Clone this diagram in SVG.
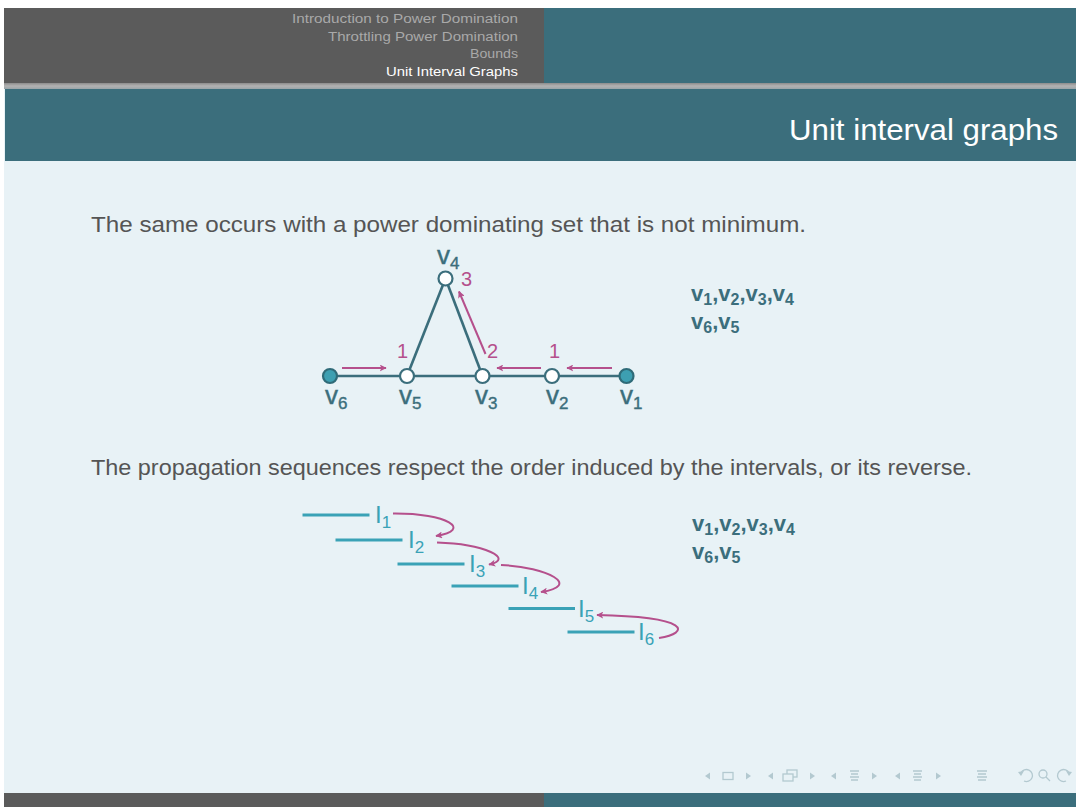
<svg xmlns="http://www.w3.org/2000/svg" width="1076" height="807" viewBox="0 0 1076 807">
<defs>
<linearGradient id="shadow" x1="0" y1="0" x2="0" y2="1">
<stop offset="0" stop-color="#8c8c8c"/>
<stop offset="0.5" stop-color="#b2b2b2"/>
<stop offset="1" stop-color="#9aa4a8"/>
</linearGradient>
<marker id="ah" viewBox="0 0 10 10" refX="9" refY="5" markerWidth="7" markerHeight="7" markerUnits="userSpaceOnUse" orient="auto">
<path d="M0,0 L10,5 L0,10 L2.5,5 Z" fill="#b5508c"/>
</marker>
</defs>
<style>
.nav{font-family:"Liberation Sans","DejaVu Sans",sans-serif;font-size:12.5px;fill:#a9a9a9}
.navact{fill:#ffffff}
.title{font-family:"Liberation Sans","DejaVu Sans",sans-serif;font-size:29px;fill:#ffffff}
.body{font-family:"Liberation Sans","DejaVu Sans",sans-serif;font-size:22px;fill:#555555}
.edge{stroke:#3b6e7c;stroke-width:2.6;fill:none}
.prop{stroke:#b5508c;stroke-width:2;fill:none;marker-end:url(#ah)}
.open{fill:#ffffff;stroke:#3b6e7c;stroke-width:2.2}
.filled{fill:#3d9fb1;stroke:#2f6b78;stroke-width:2.2}
.vl{font-family:"Liberation Sans","DejaVu Sans",sans-serif;font-size:26px;fill:#3b6e7c;stroke:#3b6e7c;stroke-width:0.4}
.num{font-family:"Liberation Sans","DejaVu Sans",sans-serif;font-size:20px;fill:#b5508c}
.seq{font-family:"Liberation Sans","DejaVu Sans",sans-serif;font-size:22px;font-weight:bold;fill:#3b6e7c}
.ival{stroke:#3aa2b6;stroke-width:3}
.il{font-family:"Liberation Sans","DejaVu Sans",sans-serif;font-size:24px;fill:#3aa2b6}
.sub{font-size:17px}
.ssub{font-size:16px}
.icon{fill:#b3c9d0;stroke:none}
.iconl{stroke:#b3c9d0;stroke-width:1.3;fill:none}
</style>

<rect x="0" y="0" width="1076" height="807" fill="#ffffff"/>
<rect x="4" y="8" width="1072" height="799" fill="#e8f2f6"/>

<g id="header">
<rect x="4" y="8" width="540" height="76" fill="#5b5b5b"/>
<rect x="544" y="8" width="532" height="76" fill="#3b6e7c"/>
<rect x="4" y="83" width="1072" height="6" fill="url(#shadow)"/>
<text class="nav" x="292" y="23" textLength="226" lengthAdjust="spacingAndGlyphs">Introduction to Power Domination</text>
<text class="nav" x="328" y="40.5" textLength="190" lengthAdjust="spacingAndGlyphs">Throttling Power Domination</text>
<text class="nav" x="470" y="58" textLength="48" lengthAdjust="spacingAndGlyphs">Bounds</text>
<text class="nav navact" x="386" y="75.5" textLength="132" lengthAdjust="spacingAndGlyphs">Unit Interval Graphs</text>
</g>

<g id="titlebar">
<rect x="5" y="89" width="1071" height="72" fill="#3b6e7c"/>
<text class="title" x="789" y="140" textLength="269" lengthAdjust="spacingAndGlyphs">Unit interval graphs</text>
</g>

<g id="text1">
<text class="body" x="91" y="232" textLength="715" lengthAdjust="spacingAndGlyphs">The same occurs with a power dominating set that is not minimum.</text>
</g>
<g id="text2">
<text class="body" x="91" y="475" textLength="881" lengthAdjust="spacingAndGlyphs">The propagation sequences respect the order induced by the intervals, or its reverse.</text>
</g>

<g id="connectors">
<line class="edge" x1="330" y1="376" x2="626" y2="376"/>
<line class="edge" x1="407" y1="376" x2="445.5" y2="278.5"/>
<line class="edge" x1="482.5" y1="376" x2="445.5" y2="278.5"/>
<line class="prop" x1="342" y1="368" x2="386" y2="368"/>
<line class="prop" x1="541" y1="368" x2="497" y2="368"/>
<line class="prop" x1="612" y1="368" x2="567" y2="368"/>
<line class="prop" x1="485.5" y1="354" x2="459" y2="291.5"/>
<path class="prop" d="M393,513.5 C448,513 473,530 436,536"/>
<path class="prop" d="M437,542.5 C485,544 515,559 489,564.5"/>
<path class="prop" d="M501,565 C548,567 582,586 541,592"/>
<path class="prop" d="M659,638 C690,633 692,617 597,615"/>
</g>

<g id="v6">
<circle class="filled" cx="330" cy="376" r="7"/>
<text class="vl" x="325" y="404">v<tspan class="sub" dy="5">6</tspan></text>
</g>
<g id="v5">
<circle class="open" cx="407" cy="376" r="7"/>
<text class="vl" x="399" y="404">v<tspan class="sub" dy="5">5</tspan></text>
<text class="num" x="397" y="358">1</text>
</g>
<g id="v3">
<circle class="open" cx="482.5" cy="376" r="7"/>
<text class="vl" x="475" y="404">v<tspan class="sub" dy="5">3</tspan></text>
<text class="num" x="487" y="358">2</text>
</g>
<g id="v2">
<circle class="open" cx="552" cy="376" r="7"/>
<text class="vl" x="546" y="404">v<tspan class="sub" dy="5">2</tspan></text>
<text class="num" x="549" y="358">1</text>
</g>
<g id="v1">
<circle class="filled" cx="626.5" cy="376" r="7"/>
<text class="vl" x="620" y="404">v<tspan class="sub" dy="5">1</tspan></text>
</g>
<g id="v4">
<circle class="open" cx="445.5" cy="278.5" r="7"/>
<text class="vl" x="437" y="264">v<tspan class="sub" dy="5">4</tspan></text>
<text class="num" x="461" y="286">3</text>
</g>

<g id="seq1">
<text class="seq" x="691" y="301">v<tspan class="ssub" dy="4">1</tspan><tspan dy="-4">,v</tspan><tspan class="ssub" dy="4">2</tspan><tspan dy="-4">,v</tspan><tspan class="ssub" dy="4">3</tspan><tspan dy="-4">,v</tspan><tspan class="ssub" dy="4">4</tspan></text>
<text class="seq" x="691" y="329">v<tspan class="ssub" dy="4">6</tspan><tspan dy="-4">,v</tspan><tspan class="ssub" dy="4">5</tspan></text>
</g>

<g id="I1">
<line class="ival" x1="302.5" y1="515" x2="369.5" y2="515"/>
<text class="il" x="375" y="523">I<tspan class="sub" dy="5">1</tspan></text>
</g>
<g id="I2">
<line class="ival" x1="335.5" y1="540" x2="402.5" y2="540"/>
<text class="il" x="408" y="548">I<tspan class="sub" dy="5">2</tspan></text>
</g>
<g id="I3">
<line class="ival" x1="397.5" y1="564" x2="464.5" y2="564"/>
<text class="il" x="469" y="572">I<tspan class="sub" dy="5">3</tspan></text>
</g>
<g id="I4">
<line class="ival" x1="451.5" y1="586" x2="518.5" y2="586"/>
<text class="il" x="522" y="594">I<tspan class="sub" dy="5">4</tspan></text>
</g>
<g id="I5">
<line class="ival" x1="508.5" y1="608.5" x2="575" y2="608.5"/>
<text class="il" x="578" y="617">I<tspan class="sub" dy="5">5</tspan></text>
</g>
<g id="I6">
<line class="ival" x1="567.5" y1="632" x2="634.5" y2="632"/>
<text class="il" x="638" y="640">I<tspan class="sub" dy="5">6</tspan></text>
</g>

<g id="seq2">
<text class="seq" x="692" y="531">v<tspan class="ssub" dy="4">1</tspan><tspan dy="-4">,v</tspan><tspan class="ssub" dy="4">2</tspan><tspan dy="-4">,v</tspan><tspan class="ssub" dy="4">3</tspan><tspan dy="-4">,v</tspan><tspan class="ssub" dy="4">4</tspan></text>
<text class="seq" x="692" y="559">v<tspan class="ssub" dy="4">6</tspan><tspan dy="-4">,v</tspan><tspan class="ssub" dy="4">5</tspan></text>
</g>

<g id="navsymbols">
<polygon class="icon" points="705,776 710,772.5 710,779.5"/>
<rect class="iconl" x="723" y="772.5" width="10" height="7"/>
<polygon class="icon" points="746,772.5 751,776 746,779.5"/>
<polygon class="icon" points="768,776 773,772.5 773,779.5"/>
<rect class="iconl" x="787" y="770" width="10" height="7"/>
<rect x="783" y="774" width="10" height="7" fill="#e8f2f6" stroke="#b3c9d0" stroke-width="1.3"/>
<polygon class="icon" points="810,772.5 815,776 810,779.5"/>
<polygon class="icon" points="831,776 836,772.5 836,779.5"/>
<path class="iconl" d="M850,771 H859 M851,774 H858 M850,777 H859 M851,780 H858"/>
<polygon class="icon" points="872,772.5 877,776 872,779.5"/>
<polygon class="icon" points="895,776 900,772.5 900,779.5"/>
<path class="iconl" d="M913,771 H922 M914,774 H921 M913,777 H922 M914,780 H921"/>
<polygon class="icon" points="936,772.5 941,776 936,779.5"/>
<path class="iconl" d="M977,771 H987 M978,774 H986 M977,777 H987 M978,780 H986"/>
<path class="iconl" d="M1021,773 A6,6 0 1 1 1024,781"/>
<polygon class="icon" points="1018,772 1024,771 1021,776"/>
<circle class="iconl" cx="1043" cy="774" r="4"/>
<path class="iconl" d="M1046,777 L1050,781"/>
<path class="iconl" d="M1069,773 A6,6 0 1 0 1066,781"/>
<polygon class="icon" points="1072,772 1066,771 1069,776"/>
</g>

<g id="footer">
<rect x="4" y="793" width="540" height="14" fill="#5b5b5b"/>
<rect x="544" y="793" width="532" height="14" fill="#3b6e7c"/>
</g>
</svg>
